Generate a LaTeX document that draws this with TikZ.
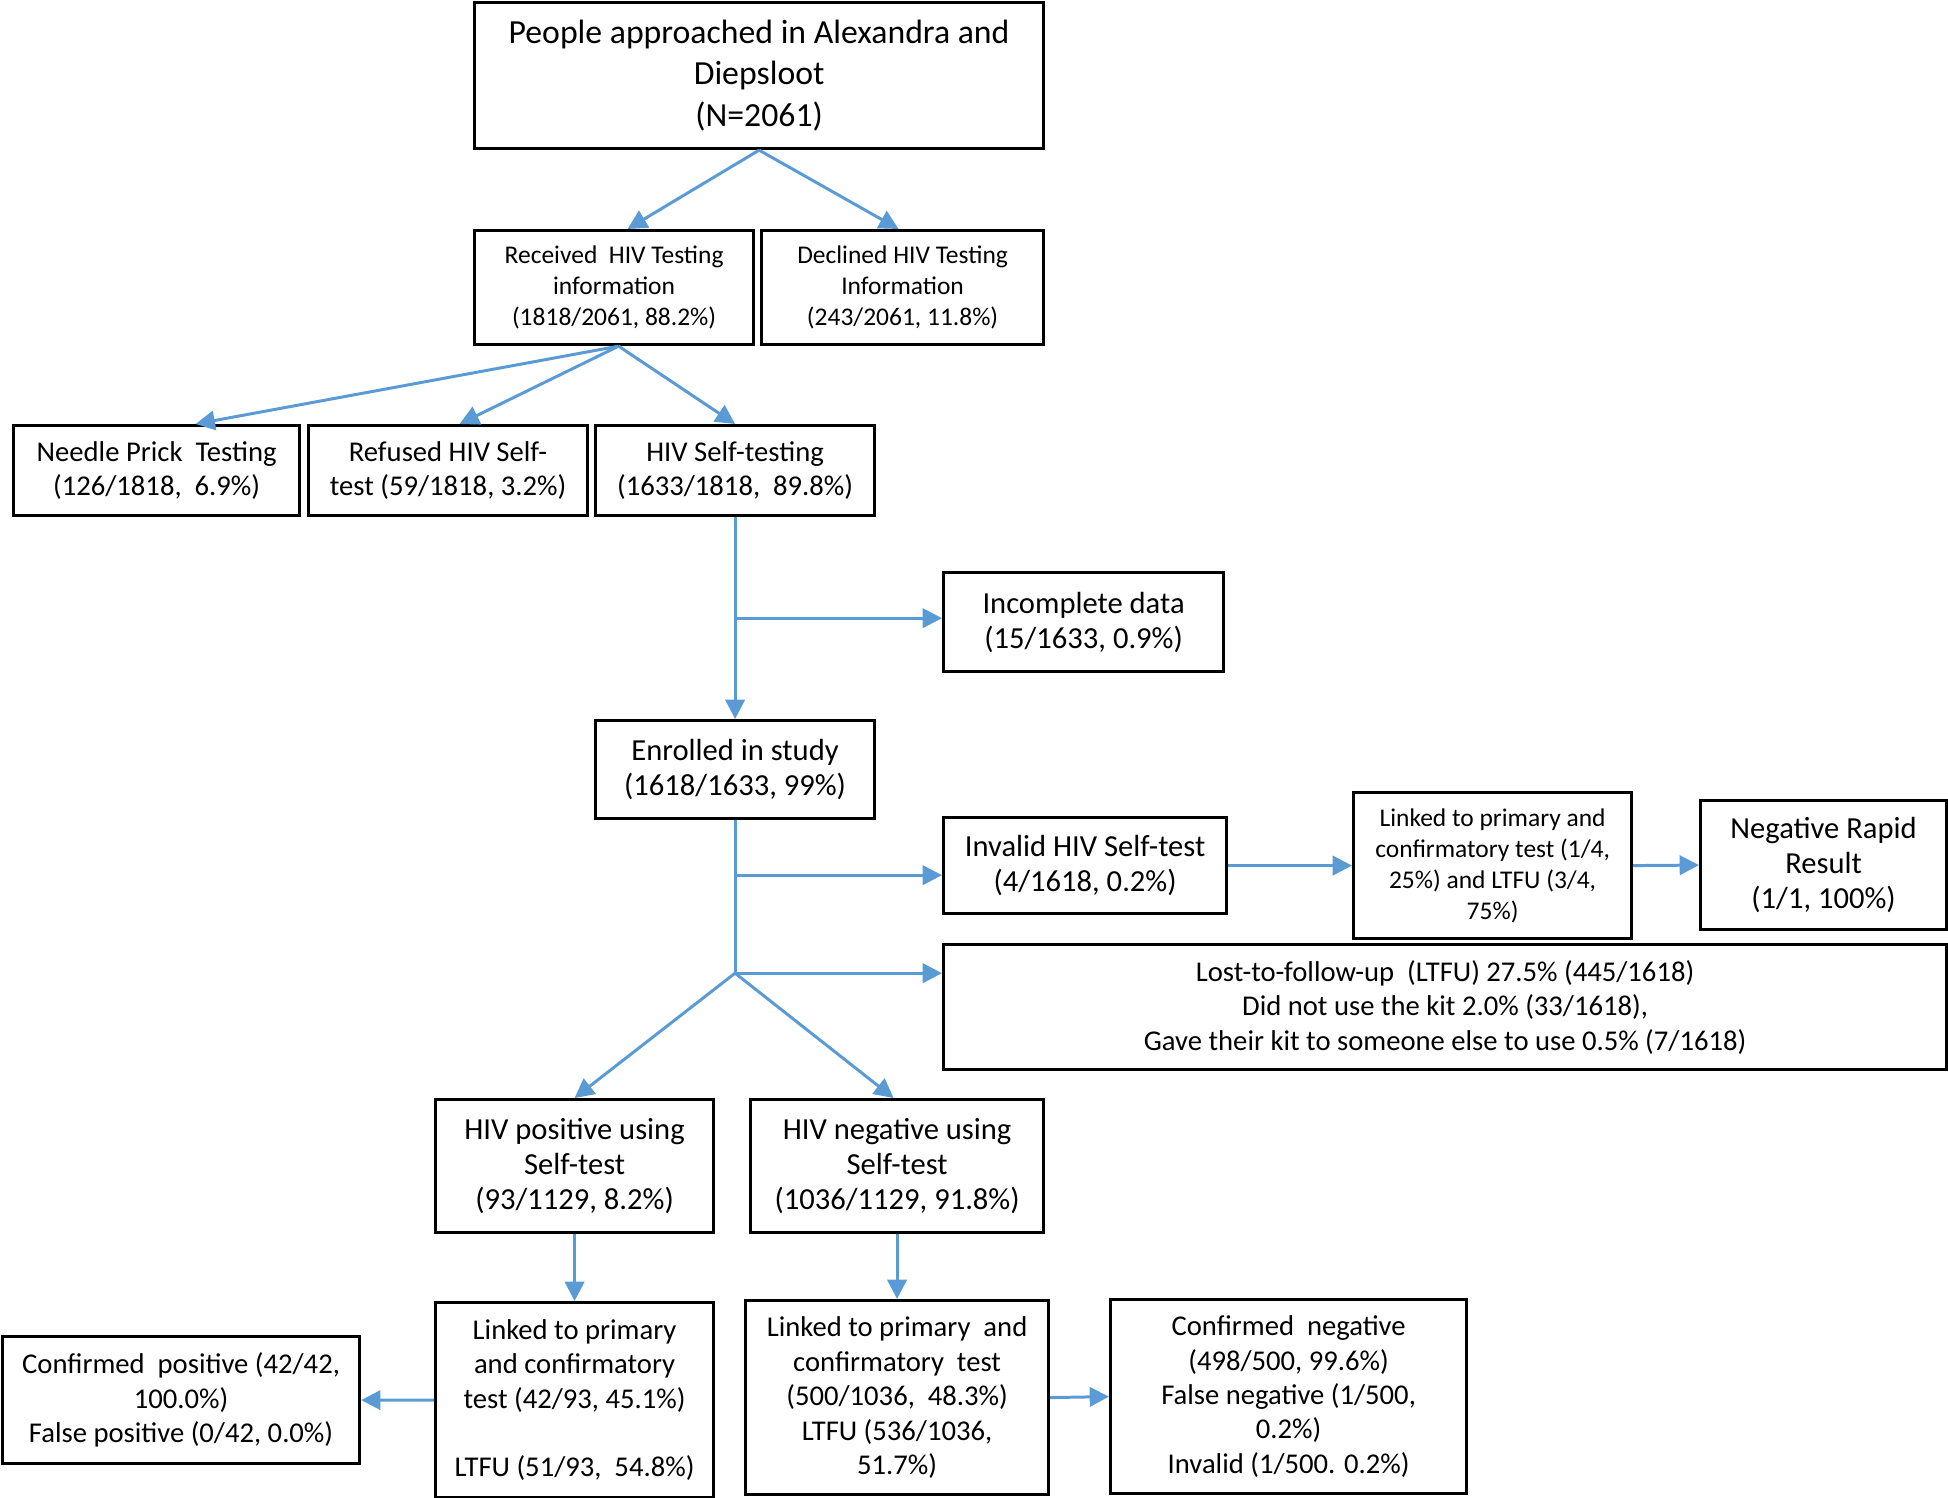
\documentclass[tikz,border=0pt]{standalone}
\usepackage{fontspec}
\setmainfont{Carlito}
\usetikzlibrary{arrows.meta,calc}
\definecolor{arrowblue}{RGB}{91,155,213}
\tikzset{
  box/.style={draw=black, line width=0.9pt, align=center, inner sep=1pt, anchor=north west},
  fbig/.style={font=\fontsize{9.6pt}{11.8pt}\selectfont},
  fstd/.style={font=\fontsize{8.15pt}{9.8pt}\selectfont},
  fmid/.style={font=\fontsize{8.7pt}{10pt}\selectfont},
  fsml/.style={font=\fontsize{7.25pt}{8.8pt}\selectfont},
  conn/.style={draw=arrowblue, line width=0.85pt, -{Triangle[length=5.5pt,width=5.5pt]}},
  plain/.style={draw=arrowblue, line width=0.85pt}
}
\begin{document}
\begin{tikzpicture}
\useasboundingbox (0,0) rectangle (19.48,-14.98);
\node[box,fbig,minimum width=5.69cm,minimum height=1.46cm] (top) at (4.73,-0.01)
  {People approached in Alexandra and\\Diepsloot\\(N=2061)};
\node[box,fsml,minimum width=2.79cm,minimum height=1.14cm] (recv) at (4.73,-2.29)
  {Received\ \ HIV Testing\\information\\(1818/2061, 88.2\%)};
\node[box,fsml,minimum width=2.82cm,minimum height=1.14cm] (decl) at (7.60,-2.29)
  {Declined HIV Testing\\Information\\(243/2061, 11.8\%)};
\node[box,fstd,minimum width=2.86cm,minimum height=0.90cm] (needle) at (0.12,-4.24)
  {Needle Prick\ \ Testing\\(126/1818,\ \ 6.9\%)};
\node[box,fstd,minimum width=2.79cm,minimum height=0.90cm] (refused) at (3.07,-4.24)
  {Refused HIV Self-\\test (59/1818, 3.2\%)};
\node[box,fstd,minimum width=2.79cm,minimum height=0.90cm] (selft) at (5.94,-4.24)
  {HIV Self-testing\\(1633/1818,\ \ 89.8\%)};
\node[box,fmid,minimum width=2.80cm,minimum height=0.99cm] (incomp) at (9.42,-5.71)
  {Incomplete data\\(15/1633, 0.9\%)};
\node[box,fmid,minimum width=2.79cm,minimum height=0.98cm] (enrol) at (5.94,-7.19)
  {Enrolled in study\\(1618/1633, 99\%)};
\node[box,fmid,minimum width=2.83cm,minimum height=0.96cm] (invalid) at (9.42,-8.16)
  {Invalid HIV Self-test\\(4/1618, 0.2\%)};
\node[box,fsml,minimum width=2.78cm,minimum height=1.46cm] (linkinv) at (13.52,-7.91)
  {Linked to primary and\\confirmatory test (1/4,\\25\%) and LTFU (3/4,\\75\%)};
\node[box,fmid,minimum width=2.46cm,minimum height=1.29cm] (negrapid) at (16.99,-7.99)
  {Negative Rapid\\Result\\(1/1, 100\%)};
\node[box,fstd,minimum width=10.03cm,minimum height=1.25cm] (ltfu) at (9.42,-9.43)
  {Lost-to-follow-up\ \ (LTFU) 27.5\% (445/1618)\\Did not use the kit 2.0\% (33/1618),\\Gave their kit to someone else to use 0.5\% (7/1618)};
\node[box,fmid,minimum width=2.78cm,minimum height=1.33cm] (pos) at (4.34,-10.98)
  {HIV positive using\\Self-test\\(93/1129, 8.2\%)};
\node[box,fmid,minimum width=2.93cm,minimum height=1.33cm] (neg) at (7.49,-10.98)
  {HIV negative using\\Self-test\\(1036/1129, 91.8\%)};
\node[box,fstd,minimum width=2.78cm,minimum height=1.95cm] (linkpos) at (4.34,-13.01)
  {Linked to primary\\and confirmatory\\test (42/93, 45.1\%)\\[9.8pt]LTFU (51/93,\ \ 54.8\%)};
\node[box,fstd,minimum width=3.03cm,minimum height=1.94cm] (linkneg) at (7.44,-12.99)
  {Linked to primary\ \ and\\confirmatory\ \ test\\(500/1036,\ \ 48.3\%)\\LTFU (536/1036,\\51.7\%)};
\node[box,fstd,minimum width=3.56cm,minimum height=1.94cm] (confneg) at (11.09,-12.98)
  {Confirmed\ \ negative\\(498/500, 99.6\%)\\False negative (1/500,\\0.2\%)\\Invalid (1/500. 0.2\%)};
\node[box,fstd,minimum width=3.57cm,minimum height=1.27cm] (confpos) at (0.01,-13.35)
  {Confirmed\ \ positive (42/42,\\100.0\%)\\False positive (0/42, 0.0\%)};

% connectors
\draw[conn] (top.south) -- ([xshift=0.135cm]recv.north);
\draw[conn] (top.south) -- ([xshift=-0.04cm]decl.north);
\draw[conn] ([xshift=0.045cm]recv.south) -- ([xshift=0.39cm]needle.north);
\draw[conn] ([xshift=0.045cm]recv.south) -- ([xshift=0.115cm]refused.north);
\draw[conn] ([xshift=0.045cm]recv.south) -- (selft.north);
\draw[conn] (selft.south) -- (enrol.north);
\coordinate (b1) at ($(selft.south)+(0,-1.01)$);
\draw[conn] (b1) -- (b1 -| incomp.west);
\coordinate (b2) at ($(enrol.south)+(0,-0.55)$);
\coordinate (b3) at ($(enrol.south)+(0,-1.53)$);
\draw[plain] (enrol.south) -- (b3);
\draw[conn] (b2) -- (b2 -| invalid.west);
\draw[conn] (b3) -- (b3 -| ltfu.west);
\draw[conn] (b3) -- (pos.north);
\draw[conn] (b3) -- ([xshift=-0.035cm]neg.north);
\draw[conn] (invalid.east) -- (linkinv.west);
\draw[conn] (linkinv.east) -- (negrapid.west);
\draw[conn] (pos.south) -- (linkpos.north);
\draw[conn] (neg.south) -- (linkneg.north);
\draw[conn] (linkpos.west) -- (confpos.east);
\draw[conn] (linkneg.east) -- (confneg.west);
\end{tikzpicture}
\end{document}
